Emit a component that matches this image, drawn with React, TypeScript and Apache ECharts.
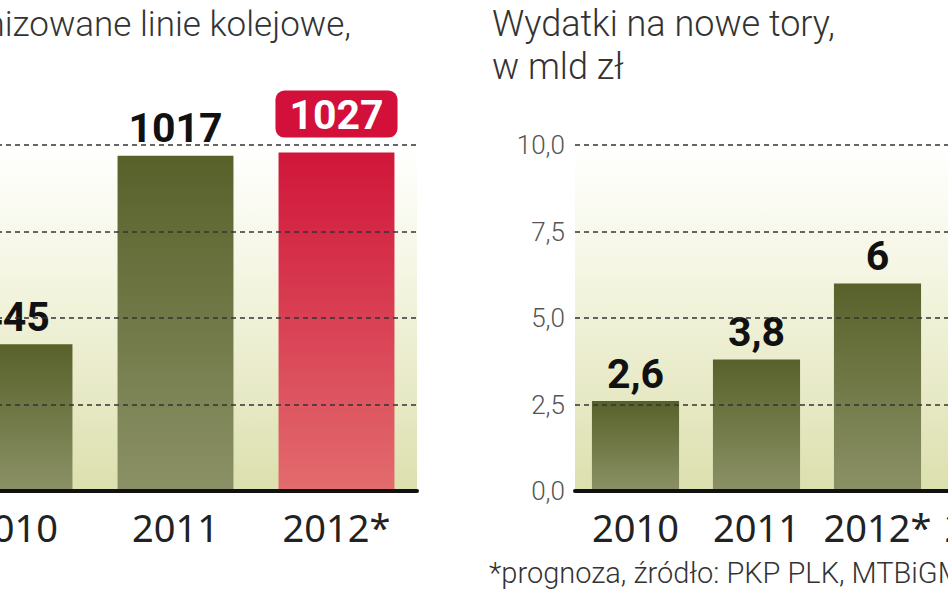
import React, { useEffect, useRef } from "react";
import * as echarts from "echarts";

const leftCategories = ["2010", "2011", "2012*"];
const leftValues = [445, 1017, 1027];
const leftForecast = [false, false, true];

const rightCategories = ["2010", "2011", "2012*", "2013*"];
const rightValues = [2.6, 3.8, 6, 7.7];
const rightForecast = [false, false, false, true];

const leftTitle = "Zmodernizowane linie kolejowe,";
const rightTitle = ["Wydatki na nowe tory,", "w mld zł"];
const footnote = "*prognoza, źródło: PKP PLK, MTBiGM";

const LABEL_FONT = "Roboto, sans-serif";
const TEXT_FONT = "Roboto, 'Noto Sans', sans-serif";
const AXIS_FONT = "'Noto Sans', 'Open Sans', sans-serif";

// chart canvas is shifted left so that the cropped panels extend past the page edges
const OX = 66;
const CW = 948 + OX + 111;

export default function App() {
  const ref = useRef<HTMLDivElement>(null);
  useEffect(() => {
    if (!ref.current) return;
    const chart = echarts.init(ref.current, undefined, { renderer: "svg" });
    const olive = () =>
      new echarts.graphic.LinearGradient(0, 0, 0, 1, [
        { offset: 0, color: "#58612a" },
        { offset: 1, color: "#8b9166" },
      ]);
    const red = () =>
      new echarts.graphic.LinearGradient(0, 0, 0, 1, [
        { offset: 0, color: "#d0163a" },
        { offset: 1, color: "#e26c6e" },
      ]);
    const bg = () =>
      new echarts.graphic.LinearGradient(0, 0, 0, 1, [
        { offset: 0, color: "#ffffff" },
        { offset: 0.35, color: "#f5f6e4" },
        { offset: 1, color: "#dce0ae" },
      ]);
    const fmt = (v: number) => String(v).replace(".", ",");
    const makeData = (vals: number[], fc: boolean[]) =>
      vals.map((v, i) => ({
        value: v,
        itemStyle: { color: fc[i] ? red() : olive() },
        label: fc[i]
          ? {
              show: true,
              position: "top",
              distance: 15,
              formatter: () => fmt(v),
              color: "#ffffff",
              backgroundColor: "#d2103a",
              borderRadius: 9,
              padding: [4, 14, 2, 14],
              fontFamily: LABEL_FONT,
              fontWeight: "bold",
              fontSize: 41,
            }
          : {
              show: true,
              position: "top",
              distance: 7,
              formatter: () => fmt(v),
              color: "#111111",
              fontFamily: LABEL_FONT,
              fontWeight: "bold",
              fontSize: 41,
            },
      }));
    const xAxisBase = {
      type: "category",
      axisTick: { show: false },
      axisLine: { show: true, lineStyle: { color: "#111", width: 4 } },
      axisLabel: { color: "#222", fontSize: 38, fontFamily: AXIS_FONT, margin: 17, interval: 0 },
      z: 4,
    };
    const gridLine = { show: true, lineStyle: { color: "#333", width: 1.5, type: [5, 4] } };
    chart.setOption({
      animation: false,
      grid: [
        { left: 0, right: CW - (417 + OX), top: 145, bottom: 102, show: true, borderWidth: 0, backgroundColor: bg() },
        { left: 575 + OX, right: 0, top: 145, bottom: 102, show: true, borderWidth: 0, backgroundColor: bg() },
      ],
      xAxis: [
        { ...xAxisBase, gridIndex: 0, data: leftCategories },
        { ...xAxisBase, gridIndex: 1, data: rightCategories },
      ],
      yAxis: [
        {
          type: "value",
          gridIndex: 0,
          min: 0,
          max: 1050,
          interval: 262.5,
          axisLabel: { show: false },
          axisLine: { show: false },
          axisTick: { show: false },
          splitLine: gridLine,
          z: 3,
        },
        {
          type: "value",
          gridIndex: 1,
          min: 0,
          max: 10,
          interval: 2.5,
          axisLabel: {
            color: "#555",
            fontSize: 26,
            fontFamily: TEXT_FONT,
            fontWeight: 300,
            margin: 10,
            formatter: (v: number) => v.toFixed(1).replace(".", ","),
          },
          axisLine: { show: false },
          axisTick: { show: false },
          splitLine: gridLine,
          z: 3,
        },
      ],
      series: [
        {
          type: "bar",
          xAxisIndex: 0,
          yAxisIndex: 0,
          barWidth: "72%",
          data: makeData(leftValues, leftForecast),
        },
        {
          type: "bar",
          xAxisIndex: 1,
          yAxisIndex: 1,
          barWidth: "72%",
          data: makeData(rightValues, rightForecast),
        },
      ],
      graphic: [
        {
          type: "text",
          x: 351 + OX,
          y: 7,
          style: {
            text: leftTitle,
            align: "right",
            fill: "#333",
            font: `300 35px ${TEXT_FONT}`,
          },
        },
        {
          type: "text",
          x: 492 + OX,
          y: 6,
          style: { text: rightTitle[0], fill: "#333", font: `300 36px ${TEXT_FONT}` },
        },
        {
          type: "text",
          x: 492 + OX,
          y: 49,
          style: { text: rightTitle[1], fill: "#333", font: `300 36px ${TEXT_FONT}` },
        },
        {
          type: "text",
          x: 489 + OX,
          y: 558,
          style: { text: footnote, fill: "#333", font: `300 29px ${TEXT_FONT}` },
        },
      ],
    });
    return () => chart.dispose();
  }, []);
  return (
    <div style={{ position: "fixed", left: 0, top: 0, width: 948, height: 593, overflow: "hidden", background: "#fff" }}>
      <div
        ref={ref}
        style={{ position: "absolute", left: -OX, top: 0, width: CW, height: 593 }}
      />
    </div>
  );
}
